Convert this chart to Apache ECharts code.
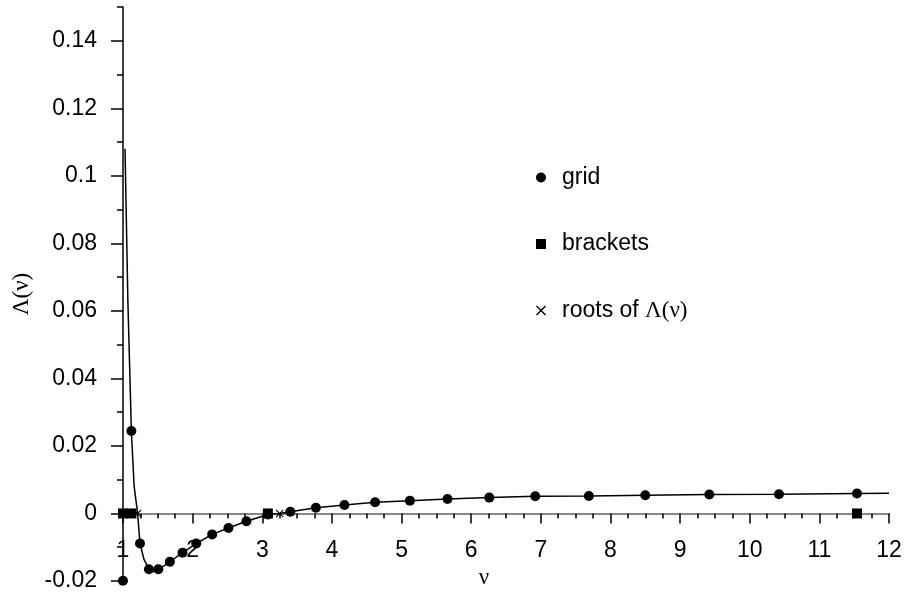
<!DOCTYPE html>
<html lang="en">
<head>
    <meta charset="UTF-8">
    <title>Lambda(nu)</title>
    <script src="https://cdn.jsdelivr.net/npm/echarts@6/dist/echarts.min.js"></script>
    <style>
        body { margin: 0; background: #fff; }
    </style>
</head>
<body>
<div id='main' style='width:908px;height:595px;'></div>
<script>
    // grid points (nu, Lambda)
    var gridX = [1.0, 1.12, 1.244, 1.372, 1.507, 1.673, 1.855, 2.052, 2.281, 2.514, 2.772, 3.083,
        3.403, 3.77, 4.18, 4.62, 5.12, 5.66, 6.26, 6.92, 7.69, 8.50, 9.42, 10.42, 11.54];
    var gridY = [-0.0199, 0.0244, -0.0089, -0.0165, -0.0165, -0.0143, -0.0116, -0.0089, -0.0062, -0.0043, -0.0023, -0.0003,
        0.0005, 0.0017, 0.0025, 0.0033, 0.0038, 0.0043, 0.0047, 0.0051, 0.0052, 0.0054, 0.0056, 0.0057, 0.0059];

    // brackets and roots, all on the axis
    var bracketX = [1.0, 1.12, 3.08, 11.54];
    var rootX = [1.21, 3.25];

    // the curve itself
    var curveX = [1.029, 1.07, 1.12, 1.16, 1.21, 1.244, 1.30, 1.372, 1.44, 1.507, 1.59, 1.673, 1.855, 2.052, 2.281,
        2.514, 2.772, 3.083, 3.25, 3.403, 3.77, 4.18, 4.62, 5.12, 5.66, 6.26, 6.92, 7.69, 8.50, 9.42, 10.42, 11.54, 12];
    var curveY = [0.108, 0.063, 0.0244, 0.008, 0.0, -0.0089, -0.0135, -0.0165, -0.0172, -0.0165, -0.0155, -0.0143, -0.0116,
        -0.0089, -0.0062, -0.0043, -0.0023, -0.0003, 0.0, 0.0005, 0.0017, 0.0025, 0.0033, 0.0038, 0.0043, 0.0047, 0.0051,
        0.0052, 0.0054, 0.0056, 0.0057, 0.0059, 0.006];

    // y tick labels
    var yTicks = [-0.02, 0, 0.02, 0.04, 0.06, 0.08, 0.1, 0.12, 0.14];

    var rootsName = 'roots of Λ(ν)';
    var crossPath = 'path://M0,1 L1,0 L5,4 L9,0 L10,1 L6,5 L10,9 L9,10 L5,6 L1,10 L0,9 L4,5 Z';
    var sans = 'Liberation Sans';
    var serif = 'Liberation Serif';

    function pairs(xs, ys) {
        var out = [];
        for (var i = 0; i < xs.length; i++) {
            out.push([xs[i], ys[i]]);
        }
        return out;
    }
    function onAxis(xs) {
        return xs.map(function (x) { return [x, 0]; });
    }

    var myChart = echarts.init(document.getElementById('main'));
    var option = {
        animation: false,
        grid: { left: 123, right: 19, top: 7, bottom: 14, outerBoundsMode: 'none', containLabel: false },
        legend: {
            orient: 'vertical',
            left: 531,
            top: 161,
            itemWidth: 10,
            itemHeight: 10,
            itemGap: 43.5,
            data: ['grid', 'brackets', rootsName],
            formatter: function (name) {
                return name === rootsName ? 'roots of {s|Λ(ν)}' : name;
            },
            textStyle: {
                fontFamily: sans, fontSize: 23, color: '#000', lineHeight: 23,
                padding: [0, 0, 0, 11],
                rich: { s: { fontFamily: serif, fontSize: 23, color: '#000' } }
            }
        },
        xAxis: {
            type: 'value',
            min: 1,
            max: 12,
            interval: 1,
            name: 'ν',
            nameLocation: 'middle',
            // labels and name sit at the grid bottom, pull them up under the zero line
            nameGap: -16,
            nameTextStyle: { fontFamily: serif, fontSize: 23, color: '#000', padding: [0, 44, 0, 0] },
            axisLine: { onZero: true, lineStyle: { color: '#888', width: 2 } },
            axisTick: { length: 10, lineStyle: { color: '#000', width: 1.5 } },
            minorTick: { show: true, splitNumber: 4, length: 5, lineStyle: { color: '#000', width: 1.5 } },
            axisLabel: { fontFamily: sans, fontSize: 23, color: '#000', margin: -42 },
            splitLine: { show: false }
        },
        yAxis: [
            {
                type: 'value',
                min: -0.02,
                max: 0.15,
                interval: 0.02,
                name: 'Λ(ν)',
                nameLocation: 'middle',
                nameRotate: 90,
                nameGap: 90,
                nameTextStyle: { fontFamily: serif, fontSize: 23, color: '#000' },
                axisLine: { show: true, lineStyle: { color: '#000', width: 1.5 } },
                axisTick: { show: true, length: 12, customValues: yTicks, lineStyle: { color: '#000', width: 1.5 } },
                axisLabel: {
                    fontFamily: sans, fontSize: 23, color: '#000', margin: 26,
                    customValues: yTicks
                },
                splitLine: { show: false }
            },
            {
                // minor ticks every 0.01
                type: 'value',
                min: -0.02,
                max: 0.15,
                interval: 0.01,
                position: 'left',
                axisLine: { show: false },
                axisTick: { show: true, length: 6, lineStyle: { color: '#000', width: 1.5 } },
                axisLabel: { show: false },
                splitLine: { show: false }
            }
        ],
        series: [
            {
                name: 'curve',
                type: 'line',
                data: pairs(curveX, curveY),
                showSymbol: false,
                symbol: 'none',
                lineStyle: { color: '#000', width: 1.5 },
                z: 2
            },
            {
                name: 'grid',
                type: 'scatter',
                data: pairs(gridX, gridY),
                symbol: 'circle',
                symbolSize: 10,
                itemStyle: { color: '#000', opacity: 1 },
                z: 3
            },
            {
                name: 'brackets',
                type: 'scatter',
                data: onAxis(bracketX),
                symbol: 'rect',
                symbolSize: 10,
                itemStyle: { color: '#000', opacity: 1 },
                z: 4
            },
            {
                name: rootsName,
                type: 'scatter',
                data: onAxis(rootX),
                symbol: crossPath,
                symbolSize: 8,
                itemStyle: { color: '#000', opacity: 1 },
                z: 4
            }
        ]
    };
    myChart.setOption(option);
</script>
</body>
</html>
